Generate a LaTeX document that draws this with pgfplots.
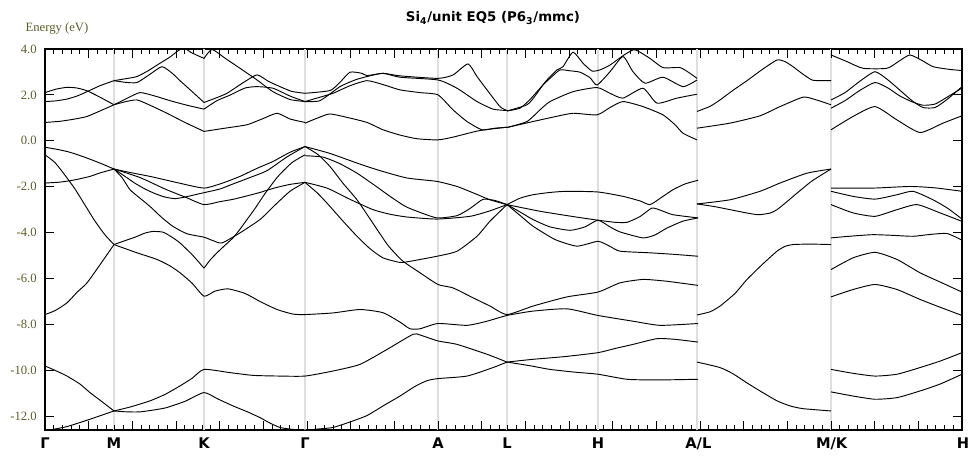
\documentclass[border=0pt]{standalone}
\usepackage{fontspec}
\usepackage{pgfplots}
\pgfplotsset{compat=1.18}
\setmainfont{Liberation Serif}
\newfontfamily\vfont{DejaVu Sans}
\definecolor{olivetxt}{RGB}{92,92,42}
\definecolor{gridgray}{RGB}{222,222,222}
\begin{document}
\begin{tikzpicture}
\useasboundingbox (-33.75pt,-19.5pt) rectangle (699pt,322.5pt);
\begin{axis}[
  at={(0pt,0pt)}, anchor=south west,
  scale only axis, width=687.75pt, height=285.75pt,
  xmin=45, xmax=962, ymin=-12.6, ymax=4.0,
  axis line style={line width=1.3pt, black},
  xtick=\empty,
  ytick={-12,-10,-8,-6,-4,-2,0,2,4},
  yticklabels={-12.0,-10.0,-8.0,-6.0,-4.0,-2.0,0.0,2.0,4.0},
  yticklabel style={font=\fontsize{9.5}{11}\selectfont, text=olivetxt, inner sep=0pt, anchor=east, xshift=-6pt},
  major tick length=0pt,
  cycle list={{black}},
  every axis plot/.append style={black, solid, line width=0.7pt, mark=none, smooth, tension=0.35},
]
\foreach \xg in {114,204,305,438,507,598,697,831}{
  \edef\tmp{\noexpand\draw[gridgray, line width=0.8pt] (axis cs:\xg,-12.6) -- (axis cs:\xg,4.0);}\tmp
}
\foreach \k in {1,...,104}{
  \pgfmathsetmacro\xx{45+\k*8.733333}
  \pgfmathsetmacro\len{ifthenelse(mod(\k,5)==0,7,3.75)}
  \edef\tmp{\noexpand\draw[black, line width=0.7pt] (axis cs:\xx,-12.6) -- ++(0pt,\len pt); \noexpand\draw[black, line width=0.7pt] (axis cs:\xx,4.0) -- ++(0pt,-\len pt);}\tmp
}
\foreach \yy in {-12,-10,-8,-6,-4,-2,0,2}{
  \edef\tmp{\noexpand\draw[black, line width=0.8pt] (axis cs:45,\yy) -- ++(7pt,0pt); \noexpand\draw[black, line width=0.8pt] (axis cs:962,\yy) -- ++(-7pt,0pt);}\tmp
}
% ---------- conduction, Gamma-M-K-Gamma-A-L-H-A ----------
\addplot coordinates {(45,2.1)(56,2.25)(67,2.33)(77,2.3)(87,2.18)(100,1.9)(114,1.57)};
\addplot coordinates {(45,1.71)(56,1.74)(67,1.82)(77,1.95)(87,2.14)(100,2.4)(114,2.62)};
\addplot coordinates {(45,0.8)(60,0.85)(75,0.95)(87,1.06)(100,1.3)(114,1.57)};
\addplot coordinates {(114,2.62)(125,2.7)(137,2.8)(148,3.05)(160,3.38)(170,3.65)(178,3.92)(184,4.05)(191,3.85)(204,3.59)};
\addplot coordinates {(204,3.59)(212,3.98)(225,3.6)(240,3.16)(257,2.65)(273,2.14)(290,1.8)(305,1.71)};
\addplot coordinates {(114,2.62)(125,2.55)(137,2.54)(150,2.9)(162,3.23)(172,2.95)(180,2.62)(192,2.15)(204,1.67)};
\addplot coordinates {(114,1.57)(127,1.85)(140,2.1)(155,1.95)(170,1.75)(187,1.55)(204,1.38)};
\addplot coordinates {(114,1.57)(125,1.7)(137,1.78)(150,1.55)(167,1.2)(185,0.8)(204,0.41)};
\addplot coordinates {(204,1.67)(215,1.85)(227,2.07)(242,2.5)(257,2.87)(268,2.6)(280,2.36)(292,2.15)(305,2.07)};
\addplot coordinates {(204,1.38)(217,1.75)(230,1.99)(245,2.3)(257,2.36)(273,2.29)(290,1.95)(305,1.71)};
\addplot coordinates {(204,0.41)(225,0.55)(247,0.7)(262,0.95)(277,1.2)(290,0.95)(305,0.8)};
\addplot coordinates {(305,2.07)(330,2.19)(340,2.55)(350,2.99)(362,2.94)(367,2.84)(383,2.94)(400,2.83)(438,2.72)(453,2.87)(468,3.35)(477,2.8)(487,2.22)(500,1.49)(507,1.32)};
\addplot coordinates {(305,1.71)(320,1.75)(340,2.36)(355,2.65)(367,2.8)(383,2.94)(400,2.77)(438,2.65)(457,2.29)(477,1.71)(493,1.38)(507,1.32)};
\addplot coordinates {(305,1.71)(320,1.9)(333,2.07)(350,2.4)(367,2.62)(383,2.45)(400,2.22)(420,2.1)(438,2.0)(453,1.35)(467,0.84)(482,0.48)(495,0.55)(507,0.59)};
\addplot coordinates {(305,0.77)(318,1.0)(330,1.17)(350,0.99)(367,0.8)(383,0.48)(400,0.25)(417,0.09)(438,0.04)(453,0.16)(480,0.45)(507,0.59)};
\addplot coordinates {(507,1.3)(520,1.42)(530,1.8)(540,2.29)(548,2.7)(557,3.09)(563,3.23)(573,3.86)(583,3.38)(592,3.04)(600,3.09)(610,3.3)(623,3.71)(633,3.96)(638,3.91)(650,3.59)(663,3.19)(680,3.19)(690,2.94)(697,2.72)};
\addplot coordinates {(507,1.3)(527,1.57)(535,1.95)(543,2.43)(552,2.8)(560,3.09)(570,3.05)(580,2.99)(590,2.75)(597,2.43)(610,3.01)(623,3.67)(633,3.01)(645,2.51)(663,2.77)(683,2.36)(697,2.65)};
\addplot coordinates {(507,0.58)(527,0.84)(540,1.35)(550,1.71)(573,2.14)(597,2.32)(610,2.07)(623,1.86)(643,2.29)(657,1.64)(677,1.86)(697,2.03)};
\addplot coordinates {(507,0.58)(533,0.84)(555,1.05)(573,1.2)(597,1.13)(610,1.45)(623,1.71)(643,1.49)(663,1.13)(675,0.7)(683,0.33)(697,0.04)};
% ---------- valence, Gamma-M-K-Gamma ----------
\addplot coordinates {(45,-0.28)(58,-0.38)(70,-0.5)(85,-0.72)(100,-0.97)(114,-1.23)};
\addplot coordinates {(45,-0.61)(55,-0.95)(65,-1.5)(75,-2.1)(85,-2.8)(95,-3.5)(105,-4.1)(114,-4.52)};
\addplot coordinates {(45,-1.84)(60,-1.8)(75,-1.7)(90,-1.55)(100,-1.4)(114,-1.23)};
\addplot coordinates {(114,-1.23)(130,-1.38)(150,-1.55)(165,-1.7)(180,-1.85)(204,-2.06)(222,-1.85)(240,-1.55)(257,-1.2)(273,-0.9)(290,-0.5)(305,-0.25)};
\addplot coordinates {(114,-1.23)(140,-1.6)(165,-2.1)(185,-2.45)(204,-2.78)(220,-2.65)(233,-2.55)(247,-2.4)(260,-2.25)(275,-2.05)(290,-1.9)(305,-1.81)};
\addplot coordinates {(114,-1.23)(125,-1.55)(135,-1.85)(145,-2.1)(155,-2.3)(165,-2.45)(175,-2.52)(185,-2.45)(195,-2.35)(205,-2.25)(220,-2.1)(233,-1.88)(250,-1.6)(267,-1.3)(287,-0.7)(305,-0.25)};
\addplot coordinates {(114,-1.23)(122,-1.6)(130,-2.13)(140,-2.5)(150,-2.86)(162,-3.35)(173,-3.73)(187,-4.05)(204,-4.2)(213,-4.35)(222,-4.45)(240,-4.01)(260,-3.43)(275,-2.8)(290,-2.2)(305,-1.81)};
\addplot coordinates {(204,-5.55)(210,-5.2)(217,-4.88)(225,-4.55)(233,-4.23)(240,-3.85)(247,-3.43)(255,-2.95)(265,-2.3)(278,-1.55)(292,-0.95)(305,-0.61)};
\addplot coordinates {(114,-4.52)(125,-4.35)(135,-4.2)(145,-4.02)(153,-3.95)(163,-3.98)(172,-4.2)(180,-4.45)(193,-5.0)(204,-5.55)};
\addplot coordinates {(114,-4.52)(135,-4.85)(157,-5.17)(170,-5.45)(180,-5.75)(192,-6.2)(204,-6.77)(215,-6.55)(228,-6.45)(245,-6.65)(260,-7.0)(277,-7.35)(293,-7.55)(305,-7.57)(333,-7.5)(360,-7.35)(383,-7.49)(400,-7.9)(410,-8.19)(420,-8.19)(438,-7.96)(467,-8.04)(487,-7.86)(507,-7.61)(533,-7.42)(567,-7.32)(598,-7.61)(633,-7.86)(660,-8.04)(698,-7.96)};
\addplot coordinates {(45,-7.57)(55,-7.4)(67,-7.06)(77,-6.6)(87,-6.19)(100,-5.4)(114,-4.52)};
\addplot coordinates {(45,-9.81)(55,-10.0)(67,-10.25)(80,-10.6)(90,-10.97)(100,-11.3)(114,-11.77)};
\addplot coordinates {(45,-12.64)(67,-12.45)(90,-12.13)(114,-11.77)};
\addplot coordinates {(114,-11.77)(130,-11.6)(150,-11.33)(165,-11.05)(180,-10.68)(192,-10.35)(204,-9.96)(230,-10.1)(253,-10.22)(280,-10.25)(305,-10.25)(333,-10.03)(360,-9.74)(387,-9.09)(413,-8.43)(420,-8.46)(438,-8.72)(457,-8.87)(487,-9.3)(507,-9.64)};
\addplot coordinates {(114,-11.77)(127,-11.81)(140,-11.81)(155,-11.72)(167,-11.62)(185,-11.35)(204,-10.97)(218,-11.25)(233,-11.55)(247,-11.8)(260,-12.06)(270,-12.3)(280,-12.49)(292,-12.57)(305,-12.6)(320,-12.55)(333,-12.49)(350,-12.25)(367,-11.97)(385,-11.5)(400,-11.12)(415,-10.7)(427,-10.45)(438,-10.36)(467,-10.25)(493,-9.88)(507,-9.64)};
\addplot coordinates {(507,-9.64)(533,-9.52)(565,-9.4)(598,-9.23)(615,-9.05)(633,-8.87)(657,-8.62)(675,-8.65)(698,-8.77)};
\addplot coordinates {(507,-9.64)(530,-9.8)(550,-9.96)(575,-10.08)(598,-10.17)(627,-10.39)(657,-10.42)(698,-10.39)};
% ---------- valence, Gamma-A-L-H-A ----------
\addplot coordinates {(305,-0.25)(330,-0.55)(357,-0.97)(380,-1.3)(407,-1.62)(437,-1.77)(457,-1.99)(475,-2.3)(490,-2.57)(507,-2.78)};
\addplot coordinates {(305,-0.25)(318,-0.6)(330,-1.12)(343,-1.85)(357,-2.57)(370,-3.4)(387,-4.5)(395,-4.9)(403,-5.25)(420,-5.75)(438,-6.26)(453,-6.41)(473,-6.84)(490,-7.2)(507,-7.57)(533,-7.2)(567,-6.8)(598,-6.59)(620,-6.19)(643,-6.04)(667,-6.12)(698,-6.3)};
\addplot coordinates {(305,-0.65)(323,-0.71)(340,-1.0)(357,-1.41)(375,-1.95)(390,-2.42)(405,-2.85)(417,-3.07)(437,-3.36)(457,-3.26)(470,-2.95)(483,-2.55)(495,-2.6)(507,-2.78)};
\addplot coordinates {(305,-1.81)(327,-2.06)(350,-2.55)(373,-3.0)(390,-3.2)(407,-3.32)(437,-3.41)(470,-3.29)(490,-3.05)(507,-2.78)};
\addplot coordinates {(305,-1.81)(318,-2.3)(330,-2.86)(343,-3.5)(357,-4.16)(370,-4.7)(383,-5.1)(400,-5.3)(410,-5.25)(437,-5.03)(457,-4.81)(477,-4.16)(490,-3.5)(507,-2.78)};
\addplot coordinates {(507,-2.78)(520,-2.5)(533,-2.35)(550,-2.25)(567,-2.2)(598,-2.23)(623,-2.42)(640,-2.62)(650,-2.78)(662,-2.45)(673,-2.13)(685,-1.88)(698,-1.72)};
\addplot coordinates {(507,-2.78)(540,-3.07)(573,-3.3)(598,-3.46)(615,-3.55)(627,-3.55)(640,-3.3)(652,-2.93)(662,-3.05)(673,-3.22)(698,-3.36)};
\addplot coordinates {(507,-2.78)(520,-3.1)(533,-3.43)(550,-3.75)(570,-3.9)(585,-3.75)(598,-3.46)(610,-3.75)(620,-3.97)(643,-4.23)(655,-4.1)(667,-3.8)(683,-3.5)(698,-3.36)};
\addplot coordinates {(507,-2.78)(520,-3.25)(533,-3.72)(555,-4.3)(577,-4.59)(598,-4.38)(610,-4.6)(620,-4.81)(650,-4.88)(675,-4.95)(698,-5.03)};
% ---------- L-M ----------
\addplot coordinates {(697,1.28)(710,1.5)(720,1.78)(733,2.2)(747,2.62)(762,3.1)(777,3.52)(785,3.45)(793,3.23)(803,2.9)(812,2.65)(820,2.62)(831,2.62)};
\addplot coordinates {(697,0.55)(730,0.77)(760,1.09)(780,1.49)(803,1.9)(815,1.8)(831,1.57)};
\addplot coordinates {(697,-2.75)(730,-2.57)(760,-2.2)(780,-1.84)(807,-1.41)(831,-1.23)};
\addplot coordinates {(697,-2.75)(715,-2.87)(730,-3.0)(745,-3.13)(758,-3.22)(770,-3.15)(777,-3.0)(787,-2.65)(797,-2.28)(812,-1.75)(831,-1.23)};
\addplot coordinates {(697,-7.59)(710,-7.45)(720,-7.2)(735,-6.65)(747,-6.04)(762,-5.4)(777,-4.81)(785,-4.6)(793,-4.52)(810,-4.5)(831,-4.52)};
\addplot coordinates {(697,-9.64)(720,-9.88)(733,-10.15)(747,-10.55)(762,-10.95)(777,-11.33)(790,-11.55)(803,-11.67)(831,-11.77)};
% ---------- K-H ----------
\addplot coordinates {(831,3.74)(847,3.45)(863,3.16)(887,3.16)(900,3.5)(910,3.74)(922,3.5)(933,3.23)(948,3.12)(962,3.06)};
\addplot coordinates {(831,1.78)(845,2.1)(860,2.6)(875,3.01)(888,2.65)(900,2.2)(912,1.75)(923,1.45)(935,1.45)(947,1.8)(962,2.36)};
\addplot coordinates {(831,1.42)(845,1.75)(860,2.2)(875,2.54)(888,2.3)(900,1.95)(912,1.7)(923,1.55)(935,1.6)(947,1.9)(962,2.3)};
\addplot coordinates {(831,0.48)(853,1.06)(875,1.49)(897,0.91)(920,0.36)(943,0.77)(962,1.09)};
\addplot coordinates {(831,-2.06)(873,-2.06)(910,-1.99)(935,-2.05)(962,-2.2)};
\addplot coordinates {(831,-2.2)(853,-2.42)(875,-2.54)(897,-2.35)(913,-2.2)(933,-2.57)(948,-2.95)(962,-3.41)};
\addplot coordinates {(831,-2.78)(853,-3.14)(875,-3.29)(897,-3.0)(917,-2.78)(940,-3.14)(962,-3.51)};
\addplot coordinates {(831,-4.23)(852,-4.15)(873,-4.09)(893,-4.12)(913,-4.16)(930,-4.08)(947,-4.04)(962,-4.33)};
\addplot coordinates {(831,-5.61)(853,-5.1)(875,-4.86)(897,-5.17)(920,-5.75)(940,-6.15)(962,-6.59)};
\addplot coordinates {(831,-6.8)(853,-6.48)(875,-6.26)(897,-6.48)(920,-6.91)(940,-7.25)(962,-7.61)};
\addplot coordinates {(831,-9.96)(853,-10.13)(875,-10.25)(897,-10.17)(920,-9.88)(940,-9.6)(962,-9.23)};
\addplot coordinates {(831,-10.94)(853,-11.12)(875,-11.26)(897,-11.19)(920,-10.9)(940,-10.6)(962,-10.17)};
\end{axis}
% labels
\node[font=\vfont\bfseries\fontsize{10}{12}\selectfont] at (336pt,309pt) {Si\textsubscript{4}/unit EQ5 (P6\textsubscript{3}/mmc)};
\node[font=\fontsize{9.5}{11}\selectfont, text=olivetxt] at (9pt,301pt) {Energy (eV)};
\begin{scope}[every node/.style={anchor=base, font=\vfont\bfseries\fontsize{11}{13}\selectfont, inner sep=0pt}]
\node at (0pt,-14.25pt) {Γ};
\node at (51.75pt,-14.25pt) {M};
\node at (119.25pt,-14.25pt) {K};
\node at (195pt,-14.25pt) {Γ};
\node at (294.75pt,-14.25pt) {A};
\node at (346.5pt,-14.25pt) {L};
\node at (414.75pt,-14.25pt) {H};
\node at (490pt,-14.25pt) {A/L};
\node at (590pt,-14.25pt) {M/K};
\node at (688.5pt,-14.25pt) {H};
\end{scope}
\end{tikzpicture}
\end{document}
